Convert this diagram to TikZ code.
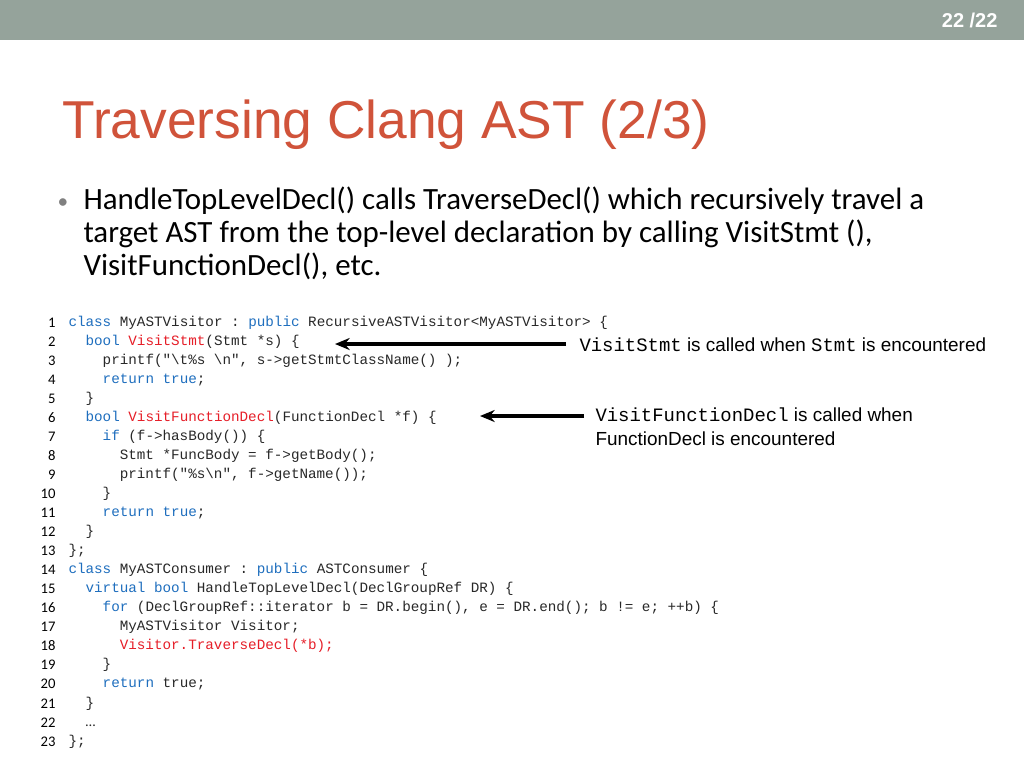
\documentclass[tikz,border=0pt]{standalone}
\usepackage{fontspec}
\setmainfont{Liberation Sans}
\newfontfamily\bodyfont{Carlito}
\setmonofont{Liberation Mono}
\usetikzlibrary{arrows.meta}
\definecolor{barcol}{RGB}{149,163,155}
\definecolor{titlecol}{RGB}{208,83,58}
\definecolor{kwblue}{RGB}{30,110,190}
\definecolor{kwred}{RGB}{230,30,40}
\definecolor{codetext}{RGB}{40,40,40}
\tikzset{every picture/.style={line width=0.75pt}}
\tikzset{codeline/.style={anchor=base west,inner sep=0pt,text=codetext,font=\fontsize{10.7}{12}\ttfamily},
  lineno/.style={anchor=base east,inner sep=0pt,font=\fontsize{11}{12}\bodyfont},
  note/.style={anchor=base west,inner sep=0pt,font=\fontsize{14.2}{18}\selectfont},
  callout/.style={-{Stealth[length=11pt,width=9pt]},line width=2.3pt}}
\newcommand{\kw}[1]{\textcolor{kwblue}{#1}}
\newcommand{\hl}[1]{\textcolor{kwred}{#1}}
\begin{document}
\begin{tikzpicture}[x=0.75pt,y=0.75pt,yscale=-1,xscale=1]
\useasboundingbox (0,0) rectangle (1024,768);
\fill[white] (0,0) rectangle (1024,768);

%Top bar
\fill[barcol] (0,0) rectangle (1024,40);
\node[anchor=base east,text=white,inner sep=0pt,font=\fontsize{15}{16}\bfseries] (pageno) at (998,27) {22 /22};

% Title
\node[anchor=base west,inner sep=0pt,text=titlecol,font=\fontsize{40}{44}\selectfont] (title) at (62,138) {Traversing Clang AST (2/3)};

% Bullet
\node[anchor=base west,inner sep=0pt,text=gray,font=\fontsize{16}{20}\bodyfont] (dot) at (57,208) {•};
\node[anchor=north west,inner sep=0pt,align=left,font=\fontsize{23.2}{24.75}\bodyfont] (bullet) at (83,186)
  {HandleTopLevelDecl() calls TraverseDecl() which recursively travel a\\
   target AST from the top-level declaration by calling VisitStmt (),\\
   VisitFunctionDecl(), etc.};

% Code
\foreach \n/\ind/\txt [count=\i] in {
  1/0/{\kw{class} MyASTVisitor : \kw{public} RecursiveASTVisitor<MyASTVisitor> \{},
  2/2/{\kw{bool} \hl{VisitStmt}(Stmt *s) \{},
  3/4/{printf("\textbackslash t\%s \textbackslash n", s->getStmtClassName() );},
  4/4/{\kw{return} \kw{true};},
  5/2/{\}},
  6/2/{\kw{bool} \hl{VisitFunctionDecl}(FunctionDecl *f) \{},
  7/4/{\kw{if} (f->hasBody()) \{},
  8/6/{Stmt *FuncBody = f->getBody();},
  9/6/{printf("\%s\textbackslash n", f->getName());},
  10/4/{\}},
  11/4/{\kw{return} \kw{true};},
  12/2/{\}},
  13/0/{\};},
  14/0/{\kw{class} MyASTConsumer : \kw{public} ASTConsumer \{},
  15/2/{\kw{virtual} \kw{bool} HandleTopLevelDecl(DeclGroupRef DR) \{},
  16/4/{\kw{for} (DeclGroupRef::iterator b = DR.begin(), e = DR.end(); b != e; ++b) \{},
  17/6/{MyASTVisitor Visitor;},
  18/6/{\hl{Visitor.TraverseDecl(*b);}},
  19/4/{\}},
  20/4/{\kw{return} true;},
  21/2/{\}},
  22/2/{\bodyfont …},
  23/0/{\};}} {
  \node[lineno] (ln\n) at (56,{327+(\i-1)*19.05}) {\n};
  \node[codeline] (code\n) at ({68+\ind*8.55},{326+(\i-1)*19.05}) {\txt};
}

% Notes
\node[note] (note1) at (579,351) {\texttt{VisitStmt} is called when \texttt{Stmt} is encountered};
\node[note,align=left,anchor=north west] (note2) at (595,407) {\texttt{VisitFunctionDecl} is called when\\FunctionDecl is encountered};
\coordinate (tip1) at (335,344);
\coordinate (tip2) at (480,416);
\draw[callout] (566,344) -- (tip1);
\draw[callout] (584,416) -- (tip2);

\end{tikzpicture}
\end{document}
